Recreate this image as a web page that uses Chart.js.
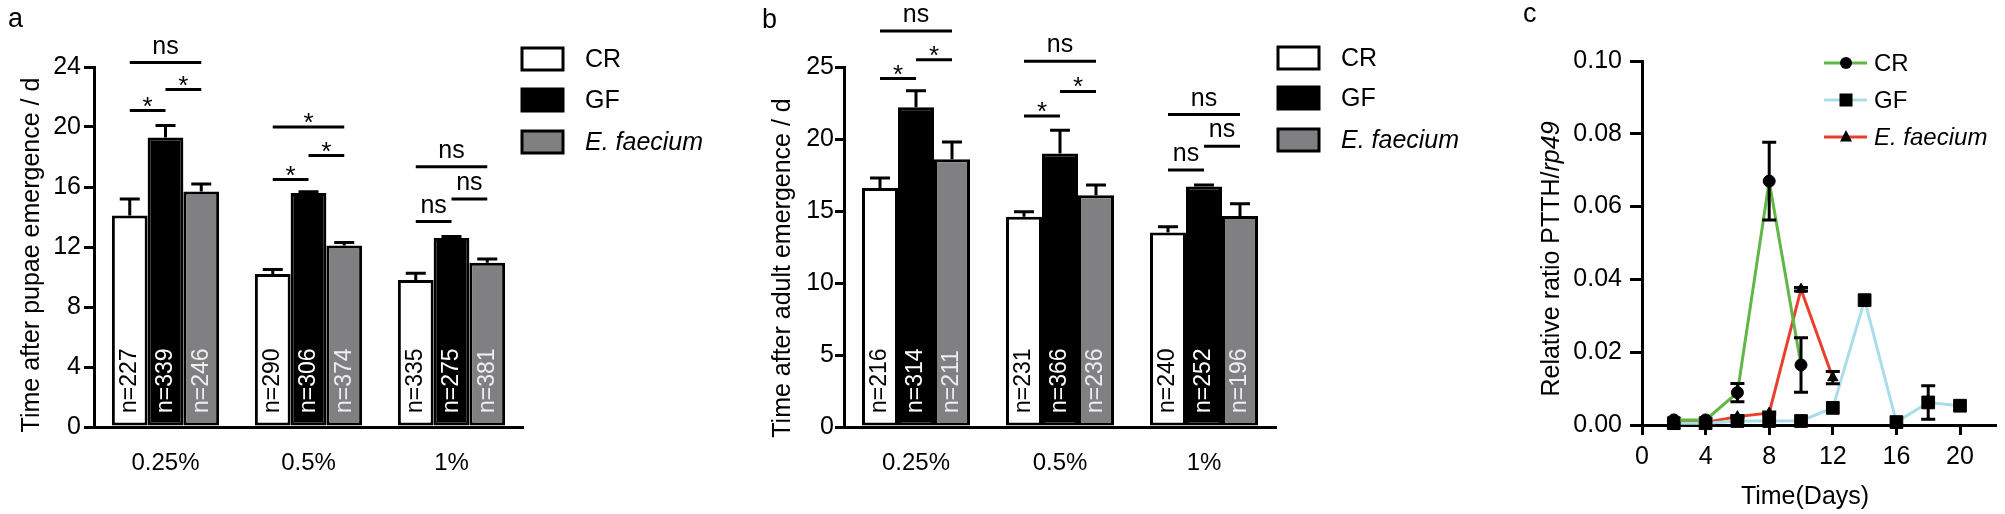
<!DOCTYPE html>
<html>
<head>
<meta charset="utf-8">
<script src="https://cdn.jsdelivr.net/npm/chart.js@4.4.1/dist/chart.umd.min.js"></script>
<style>
  html, body { margin: 0; padding: 0; background: #fff; }
  #wrap { position: relative; width: 2005px; height: 514px; overflow: hidden; }
  canvas { position: absolute; top: 0; }
</style>
</head>
<body>
<div id="wrap">
  <canvas id="pupae" width="760" height="514" style="left:0px"></canvas>
  <canvas id="adult" width="800" height="514" style="left:700px"></canvas>
  <canvas id="ptth" width="505" height="514" style="left:1500px"></canvas>
</div>
<script>
const groups = ['0.25%', '0.5%', '1%'];
const seriesNames = ['CR', 'GF', 'E. faecium'];

// a: time after pupae emergence (d)
const pupaeCR = [14.1, 10.2, 9.8];
const pupaeGF = [19.3, 15.6, 12.6];
const pupaeEF = [15.7, 12.1, 10.95];
const pupaeCRerr = [1.1, 0.3, 0.45];
const pupaeGFerr = [0.8, 0.08, 0.1];
const pupaeEFerr = [0.5, 0.2, 0.25];
const pupaeCRn = [227, 290, 335];
const pupaeGFn = [339, 306, 275];
const pupaeEFn = [246, 374, 381];
// [group, bar from, bar to, height, label]
const pupaeSig = [
  [0, 0, 1, 21.1, '*'], [0, 1, 2, 22.5, '*'], [0, 0, 2, 24.3, 'ns'],
  [1, 0, 1, 16.5, '*'], [1, 1, 2, 18.1, '*'], [1, 0, 2, 20.0, '*'],
  [2, 0, 1, 13.7, 'ns'], [2, 1, 2, 15.2, 'ns'], [2, 0, 2, 17.35, 'ns']
];

// b: time after adult emergence (d)
const adultCR = [16.6, 14.6, 13.5];
const adultGF = [22.2, 19.0, 16.7];
const adultEF = [18.6, 16.1, 14.65];
const adultCRerr = [0.7, 0.35, 0.4];
const adultGFerr = [1.15, 1.6, 0.1];
const adultEFerr = [1.2, 0.7, 0.85];
const adultCRn = [216, 231, 240];
const adultGFn = [314, 366, 252];
const adultEFn = [211, 236, 196];
const adultSig = [
  [0, 0, 1, 24.2, '*'], [0, 1, 2, 25.5, '*'], [0, 0, 2, 27.5, 'ns'],
  [1, 0, 1, 21.6, '*'], [1, 1, 2, 23.3, '*'], [1, 0, 2, 25.4, 'ns'],
  [2, 0, 1, 17.85, 'ns'], [2, 1, 2, 19.5, 'ns'], [2, 0, 2, 21.7, 'ns']
];

// c: relative ratio PTTH/rp49 over time
const days = [2, 4, 6, 8, 10, 12, 14, 16, 18, 20];
const ptthCR = [0.0014, 0.0014, 0.0089, 0.067, 0.0165, null, null, null, null, null];
const ptthCRerr = [0, 0, 0.0025, 0.0107, 0.0075, 0, 0, 0, 0, 0];
const ptthGF = [0.0005, 0.0005, 0.0011, 0.0011, 0.0011, 0.0047, 0.0343, 0.0008, 0.0062, 0.0053];
const ptthGFerr = [0, 0, 0, 0, 0, 0, 0, 0, 0.0046, 0];
const ptthEF = [0.0007, 0.0007, 0.0023, 0.0033, 0.0373, 0.013, null, null, null, null];
const ptthEFerr = [0, 0, 0.0003, 0.0003, 0.0005, 0.0017, 0, 0, 0, 0];

Chart.defaults.font.family = "'Liberation Sans', Arial, sans-serif";
Chart.defaults.color = '#000';

const FONT = "'Liberation Sans', Arial, sans-serif";
const barFills = ['#ffffff', '#000000', '#808082'];
const nColors = ['#000000', '#ffffff', '#eeeeee'];

function rotatedTitle(ctx, parts, cx, cy, size) {
  // parts: [[text, italic], ...] drawn bottom-to-top, centred on cx,cy
  ctx.save();
  ctx.translate(cx, cy);
  ctx.rotate(-Math.PI / 2);
  ctx.textBaseline = 'middle';
  ctx.textAlign = 'left';
  let total = 0;
  parts.forEach(p => {
    ctx.font = (p[1] ? 'italic ' : '') + size + 'px ' + FONT;
    total += ctx.measureText(p[0]).width;
  });
  let x = -total / 2;
  parts.forEach(p => {
    ctx.font = (p[1] ? 'italic ' : '') + size + 'px ' + FONT;
    ctx.fillText(p[0], x, 0);
    x += ctx.measureText(p[0]).width;
  });
  ctx.restore();
}

function barDecor(o) {
  return {
    id: 'decor',
    afterDatasetsDraw(chart) {
      const ctx = chart.ctx;
      const y = chart.scales.y;
      const bottom = chart.chartArea.bottom;
      ctx.save();
      ctx.strokeStyle = '#000';
      ctx.lineWidth = 3;
      // error bars (upper only)
      o.errors.forEach((errs, d) => {
        const meta = chart.getDatasetMeta(d);
        errs.forEach((e, g) => {
          const bx = meta.data[g].x;
          const top = y.getPixelForValue(o.values[d][g]);
          const up = y.getPixelForValue(o.values[d][g] + e);
          ctx.beginPath();
          ctx.moveTo(bx, top);
          ctx.lineTo(bx, up);
          ctx.moveTo(bx - 10, up);
          ctx.lineTo(bx + 10, up);
          ctx.stroke();
        });
      });
      // n = labels inside bars
      o.counts.forEach((ns, d) => {
        const meta = chart.getDatasetMeta(d);
        ns.forEach((n, g) => {
          ctx.save();
          ctx.translate(meta.data[g].x, bottom - 14);
          ctx.rotate(-Math.PI / 2);
          ctx.font = '23px ' + FONT;
          ctx.fillStyle = nColors[d];
          ctx.textAlign = 'left';
          ctx.textBaseline = 'middle';
          ctx.fillText('n=' + n, 0, 0);
          ctx.restore();
        });
      });
      // significance lines
      ctx.fillStyle = '#000';
      ctx.textAlign = 'center';
      ctx.textBaseline = 'alphabetic';
      o.sig.forEach(s => {
        const x1 = chart.getDatasetMeta(s[1]).data[s[0]].x;
        const x2 = chart.getDatasetMeta(s[2]).data[s[0]].x;
        const ly = y.getPixelForValue(s[3]);
        ctx.beginPath();
        ctx.moveTo(x1, ly);
        ctx.lineTo(x2, ly);
        ctx.stroke();
        if (s[4] === '*') {
          ctx.font = '26px ' + FONT;
          ctx.fillText('*', (x1 + x2) / 2, ly + 4);
        } else {
          ctx.font = '25px ' + FONT;
          ctx.fillText(s[4], (x1 + x2) / 2, ly - 9);
        }
      });
      // legend
      o.legendRows.forEach((ry, i) => {
        ctx.fillStyle = barFills[i];
        ctx.fillRect(o.legendX, ry - 11, 41, 22);
        ctx.strokeRect(o.legendX, ry - 11, 41, 22);
        ctx.fillStyle = '#000';
        ctx.font = (i === 2 ? 'italic ' : '') + '25px ' + FONT;
        ctx.textAlign = 'left';
        ctx.textBaseline = 'middle';
        ctx.fillText(seriesNames[i], o.legendX + 63, ry + 1);
      });
      // panel letter and y title
      ctx.font = '27px ' + FONT;
      ctx.textBaseline = 'alphabetic';
      ctx.fillText(o.letter, o.letterX, o.letterY);
      rotatedTitle(ctx, [[o.title, false]], o.titleX, o.titleY, 25);
      ctx.restore();
    }
  };
}

function barPanel(id, o) {
  new Chart(document.getElementById(id), {
    type: 'bar',
    data: {
      labels: groups,
      datasets: o.values.map((v, i) => ({
        label: seriesNames[i],
        data: v,
        backgroundColor: barFills[i],
        borderColor: '#000',
        borderWidth: 3,
        borderSkipped: false,
        categoryPercentage: 0.75,
        barPercentage: 1.0
      }))
    },
    options: {
      responsive: false,
      animation: false,
      devicePixelRatio: 1,
      layout: { padding: { left: 0, right: o.padRight, top: 67, bottom: 0 } },
      plugins: { legend: { display: false }, tooltip: { enabled: false } },
      scales: {
        x: {
          grid: { display: false },
          border: { display: true, color: '#000', width: 3 },
          ticks: { padding: 14, font: { size: 24 }, color: '#000', maxRotation: 0 },
          afterFit: s => { s.height = 87; }
        },
        y: {
          min: 0,
          max: o.yMax,
          ticks: { stepSize: o.yStep, padding: o.tickPad, font: { size: 25 }, color: '#000' },
          grid: { drawOnChartArea: false, tickLength: o.tickLen, color: '#000', lineWidth: 3 },
          border: { display: true, color: '#000', width: 3 },
          afterFit: s => { s.width = o.axisLeft; }
        }
      }
    },
    plugins: [barDecor(o)]
  });
}

barPanel('pupae', {
  values: [pupaeCR, pupaeGF, pupaeEF],
  errors: [pupaeCRerr, pupaeGFerr, pupaeEFerr],
  counts: [pupaeCRn, pupaeGFn, pupaeEFn],
  sig: pupaeSig,
  yMax: 24, yStep: 4,
  axisLeft: 94, padRight: 237, tickLen: 10, tickPad: 3,
  legendX: 522, legendRows: [59, 100, 142],
  letter: 'a', letterX: 8, letterY: 27,
  title: 'Time after pupae emergence / d', titleX: 32, titleY: 255
});

barPanel('adult', {
  values: [adultCR, adultGF, adultEF],
  errors: [adultCRerr, adultGFerr, adultEFerr],
  counts: [adultCRn, adultGFn, adultEFn],
  sig: adultSig,
  yMax: 25, yStep: 5,
  axisLeft: 144, padRight: 224, tickLen: 9, tickPad: 1,
  legendX: 578, legendRows: [58, 98, 140],
  letter: 'b', letterX: 62, letterY: 28,
  title: 'Time after adult emergence / d', titleX: 83, titleY: 268
});

// panel c
const lineColors = ['#5fb846', '#a9dde8', '#e8402c'];
const lineMarkers = ['circle', 'rect', 'triangle'];
const lineRadius = [6, 9, 6];
const ptthVals = [ptthCR, ptthGF, ptthEF];
const ptthErrs = [ptthCRerr, ptthGFerr, ptthEFerr];

function toPoints(vals) {
  const pts = [];
  days.forEach((d, i) => { if (vals[i] !== null) pts.push({ x: d, y: vals[i] }); });
  return pts;
}

function marker(ctx, style, x, y) {
  ctx.beginPath();
  if (style === 'circle') {
    ctx.arc(x, y, 6, 0, Math.PI * 2);
  } else if (style === 'rect') {
    ctx.rect(x - 6.5, y - 6.5, 13, 13);
  } else {
    ctx.moveTo(x, y - 7);
    ctx.lineTo(x + 6, y + 4.5);
    ctx.lineTo(x - 6, y + 4.5);
    ctx.closePath();
  }
  ctx.fill();
}

const lineDecor = {
  id: 'lineDecor',
  afterDatasetsDraw(chart) {
    const ctx = chart.ctx;
    const xs = chart.scales.x, ys = chart.scales.y;
    ctx.save();
    ctx.strokeStyle = '#000';
    ctx.fillStyle = '#000';
    ctx.lineWidth = 3;
    ptthErrs.forEach((errs, d) => {
      errs.forEach((e, i) => {
        if (!e || ptthVals[d][i] === null) return;
        const px = xs.getPixelForValue(days[i]);
        const lo = ys.getPixelForValue(ptthVals[d][i] - e);
        const hi = ys.getPixelForValue(ptthVals[d][i] + e);
        ctx.beginPath();
        ctx.moveTo(px, lo); ctx.lineTo(px, hi);
        ctx.moveTo(px - 7, lo); ctx.lineTo(px + 7, lo);
        ctx.moveTo(px - 7, hi); ctx.lineTo(px + 7, hi);
        ctx.stroke();
      });
    });
    // legend
    [63, 100, 137].forEach((ry, i) => {
      ctx.strokeStyle = lineColors[i];
      ctx.beginPath();
      ctx.moveTo(324, ry); ctx.lineTo(367, ry);
      ctx.stroke();
      ctx.fillStyle = '#000';
      marker(ctx, lineMarkers[i], 346, ry);
      ctx.font = (i === 2 ? 'italic ' : '') + '24px ' + FONT;
      ctx.textAlign = 'left';
      ctx.textBaseline = 'middle';
      ctx.fillText(seriesNames[i], 374, ry + 1);
    });
    ctx.font = '27px ' + FONT;
    ctx.textBaseline = 'alphabetic';
    ctx.fillText('c', 23, 22);
    ctx.font = '25px ' + FONT;
    ctx.textAlign = 'center';
    ctx.textBaseline = 'middle';
    ctx.fillText('Time(Days)', 305, 497);
    rotatedTitle(ctx, [['Relative ratio PTTH/', false], ['rp49', true]], 52, 259, 25);
    ctx.restore();
  }
};

new Chart(document.getElementById('ptth'), {
  type: 'line',
  data: {
    datasets: ptthVals.map((v, i) => ({
      label: seriesNames[i],
      data: toPoints(v),
      borderColor: lineColors[i],
      borderWidth: 3,
      pointStyle: lineMarkers[i],
      pointRadius: lineRadius[i],
      pointBackgroundColor: '#000',
      pointBorderColor: '#000',
      pointBorderWidth: 1,
      tension: 0,
      clip: false
    }))
  },
  options: {
    responsive: false,
    animation: false,
    devicePixelRatio: 1,
    layout: { padding: { left: 0, right: 3, top: 61, bottom: 0 } },
    plugins: { legend: { display: false }, tooltip: { enabled: false } },
    scales: {
      x: {
        type: 'linear',
        min: 0,
        max: 22.2,
        ticks: { stepSize: 4, includeBounds: false, padding: 7, font: { size: 25 }, color: '#000', maxRotation: 0 },
        grid: { drawOnChartArea: false, tickLength: 10, color: '#000', lineWidth: 3 },
        border: { display: true, color: '#000', width: 3 },
        afterFit: s => { s.height = 89; }
      },
      y: {
        min: 0,
        max: 0.1,
        ticks: { stepSize: 0.02, padding: 8, font: { size: 25 }, color: '#000', callback: v => v.toFixed(2) },
        grid: { drawOnChartArea: false, tickLength: 12, color: '#000', lineWidth: 3 },
        border: { display: true, color: '#000', width: 3 },
        afterFit: s => { s.width = 142; }
      }
    }
  },
  plugins: [lineDecor]
});
</script>
</body>
</html>
